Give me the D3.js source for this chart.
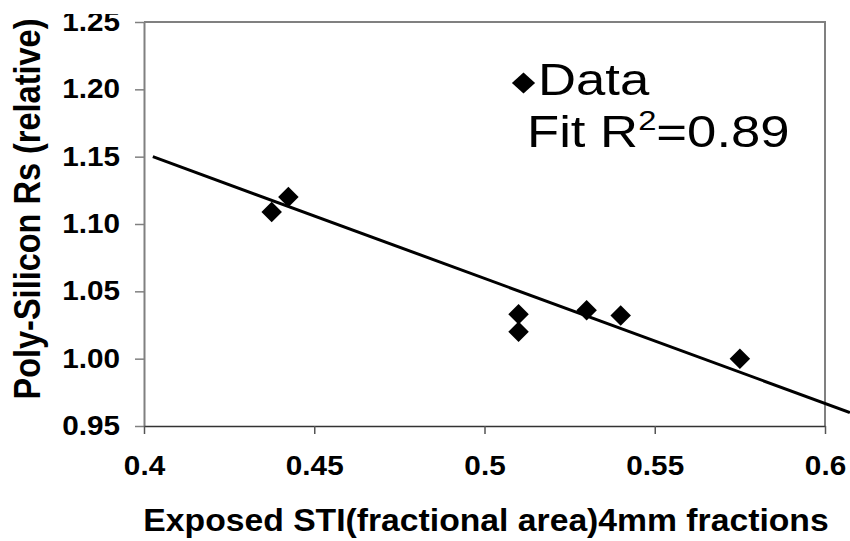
<!DOCTYPE html>
<html>
<head>
<meta charset="utf-8">
<script src="https://cdn.jsdelivr.net/npm/d3@7"></script>
<style>
  body { margin: 0; background: #fff; }
  svg text { font-family: "Liberation Sans", Arial, sans-serif; }
</style>
</head>
<body>
<svg id="chart" width="850" height="541"></svg>
<script>
// Exposed STI fraction vs. relative poly-silicon sheet resistance
const stiFraction = [0.4375, 0.4424, 0.51, 0.51, 0.53, 0.54, 0.575];
const polyRs      = [1.109, 1.120, 1.033, 1.020, 1.036, 1.032, 1.000];

// Linear fit end points
const fitX = [0.4026, 0.6073];
const fitY = [1.150, 0.960];

const xTicks = [0.4, 0.45, 0.5, 0.55, 0.6];
const xTickLabels = ["0.4", "0.45", "0.5", "0.55", "0.6"];
const yTicks = [0.95, 1.00, 1.05, 1.10, 1.15, 1.20, 1.25];
const yTickLabels = ["0.95", "1.00", "1.05", "1.10", "1.15", "1.20", "1.25"];

const xTitle = "Exposed STI(fractional area)4mm fractions";
const yTitle = "Poly-Silicon Rs (relative)";
const legendData = "Data";
const legendFit = ["Fit R", "2", "=0.89"];

const svg = d3.select("#chart");
const plot = { left: 144, right: 825, top: 22, bottom: 426 };
const labelStretch = 1.1;

const x = d3.scaleLinear().domain([0.4, 0.6]).range([plot.left, plot.right]);
const y = d3.scaleLinear().domain([0.95, 1.25]).range([plot.bottom, plot.top]);

// The page is trimmed just above the top tick label
svg.append("defs").append("clipPath").attr("id", "page-trim")
  .append("rect").attr("x", -200).attr("y", 14).attr("width", 1200).attr("height", 600);

// Plot frame: top and right edges
svg.append("path")
  .attr("d", `M${plot.left},${plot.top}H${plot.right}V${plot.bottom}`)
  .attr("fill", "none").attr("stroke", "#808080").attr("stroke-width", 2);

// Y axis
const yAxis = svg.append("g")
  .attr("transform", `translate(${plot.left},0)`)
  .call(d3.axisLeft(y).tickValues(yTicks)
    .tickFormat((d, i) => yTickLabels[i]).tickSize(9).tickSizeOuter(0).tickPadding(15));
yAxis.select(".domain").attr("stroke", "#808080").attr("stroke-width", 2);
yAxis.selectAll(".tick line").attr("stroke", "#808080").attr("stroke-width", 1.5);
yAxis.selectAll(".tick text")
  .attr("fill", "#000").attr("font-size", 27).attr("font-weight", "bold")
  .attr("font-family", "Liberation Sans, Arial, sans-serif")
  .attr("x", -24 / labelStretch)
  .attr("transform", `scale(${labelStretch},1)`);
svg.append("g").attr("clip-path", "url(#page-trim)").node().appendChild(yAxis.node());

// X axis
const xAxis = svg.append("g")
  .attr("transform", `translate(0,${plot.bottom})`)
  .call(d3.axisBottom(x).tickValues(xTicks)
    .tickFormat((d, i) => xTickLabels[i]).tickSize(8).tickSizeOuter(0).tickPadding(22));
xAxis.select(".domain").attr("stroke", "#333").attr("stroke-width", 1.5);
xAxis.selectAll(".tick line").attr("stroke", "#555").attr("stroke-width", 1.5);
xAxis.selectAll(".tick text")
  .attr("fill", "#000").attr("font-size", 27).attr("font-weight", "bold")
  .attr("font-family", "Liberation Sans, Arial, sans-serif")
  .attr("transform", `scale(${labelStretch},1)`);

// Axis titles
svg.append("text")
  .attr("transform", "translate(486,531) scale(1.07,1)")
  .attr("text-anchor", "middle")
  .attr("font-size", 31.5).attr("font-weight", "bold")
  .text(xTitle);

svg.append("text")
  .attr("transform", `translate(40,209) scale(1.15,1) rotate(-90)`)
  .attr("text-anchor", "middle")
  .attr("font-size", 32.5).attr("font-weight", "bold")
  .text(yTitle);

// Fit line
const line = d3.line().x(d => x(d[0])).y(d => y(d[1]));
svg.append("path")
  .datum(d3.zip(fitX, fitY))
  .attr("d", line)
  .attr("fill", "none").attr("stroke", "#000").attr("stroke-width", 3);

// Data markers (diamonds)
const diamond = d3.symbol().type(d3.symbolSquare).size(210);
svg.append("g").selectAll("path")
  .data(d3.zip(stiFraction, polyRs))
  .join("path")
  .attr("d", diamond)
  .attr("transform", d => `translate(${x(d[0])},${y(d[1])}) rotate(45)`)
  .attr("fill", "#000");

// Legend
const legend = svg.append("g");
legend.append("path")
  .attr("d", d3.symbol().type(d3.symbolSquare).size(240))
  .attr("transform", "translate(523.5,83) scale(1.06,0.96) rotate(45)")
  .attr("fill", "#000");
legend.append("text")
  .attr("transform", "translate(538,95) scale(1.17,1)")
  .attr("font-size", 45)
  .text(legendData);
const fitText = legend.append("text")
  .attr("transform", "translate(527,147) scale(1.17,1)")
  .attr("font-size", 45);
fitText.append("tspan").text(legendFit[0]);
fitText.append("tspan").attr("dy", -17).attr("font-size", 28).text(legendFit[1]);
fitText.append("tspan").attr("dy", 17).text(legendFit[2]);
</script>
</body>
</html>
